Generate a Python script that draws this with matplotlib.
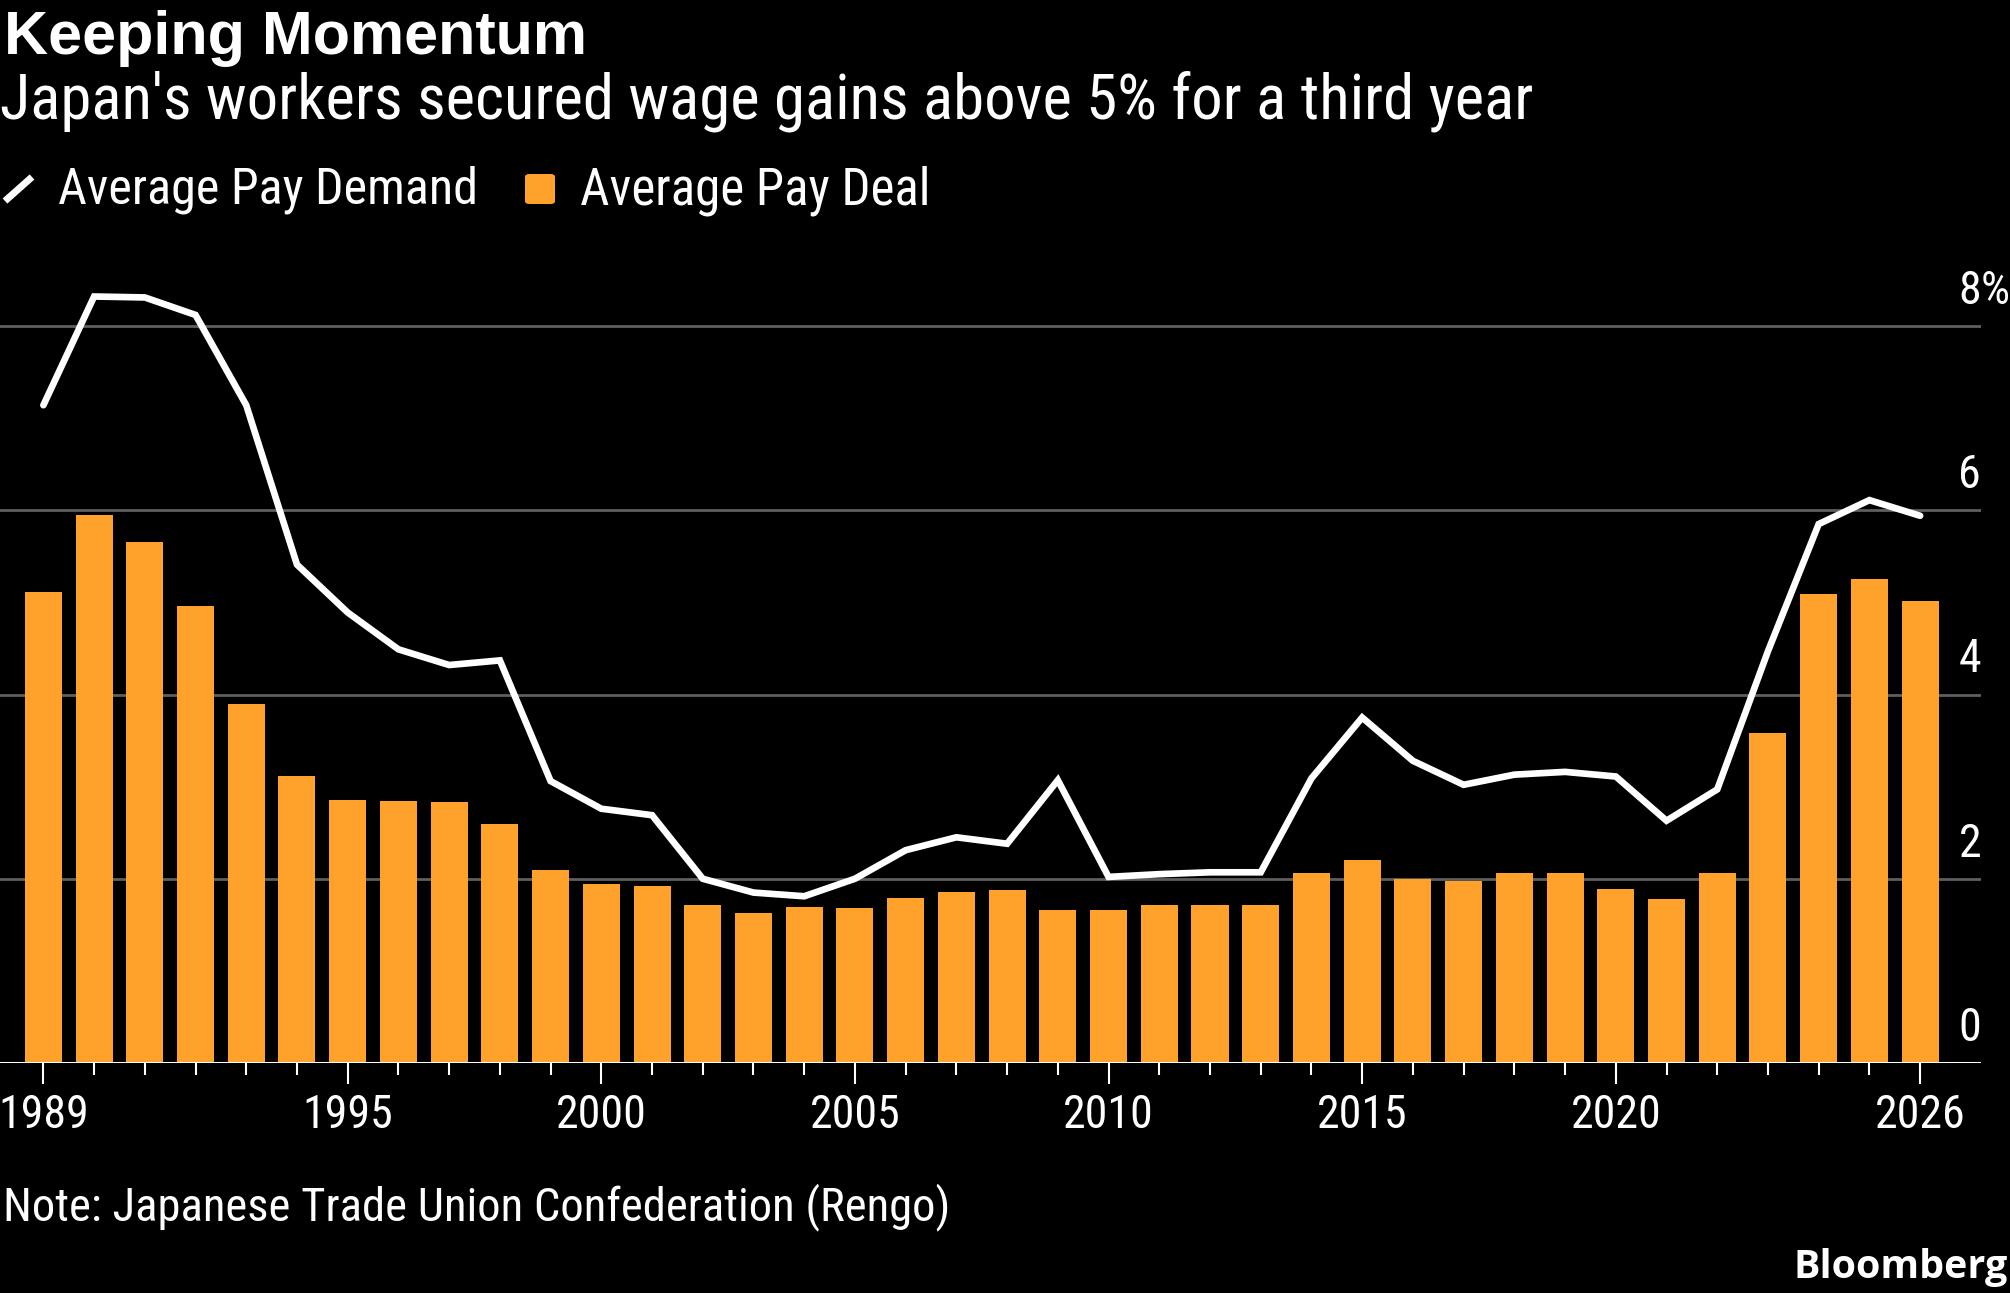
import matplotlib
matplotlib.use('Agg')
import matplotlib.pyplot as plt
from matplotlib import font_manager as fm
from matplotlib.lines import Line2D
from matplotlib.patches import FancyBboxPatch

# data (percent)
years = list(range(1989, 2027))
pay_deal = [5.11, 5.95, 5.65, 4.96, 3.90, 3.11, 2.85, 2.84, 2.83, 2.59,
            2.10, 1.94, 1.92, 1.72, 1.63, 1.69, 1.68, 1.79, 1.86, 1.88,
            1.66, 1.66, 1.71, 1.72, 1.71, 2.06, 2.20, 2.00, 1.98, 2.06,
            2.06, 1.89, 1.78, 2.06, 3.58, 5.09, 5.25, 5.01]
pay_demand = [7.14, 8.32, 8.31, 8.12, 7.14, 5.41, 4.89, 4.49, 4.32, 4.37,
              3.06, 2.76, 2.69, 2.00, 1.85, 1.81, 2.00, 2.31, 2.45, 2.38,
              3.07, 2.02, 2.05, 2.07, 2.07, 3.09, 3.75, 3.28, 3.02, 3.13,
              3.16, 3.11, 2.63, 2.97, 4.47, 5.85, 6.11, 5.94]
label_years = [1989, 1995, 2000, 2005, 2010, 2015, 2020, 2026]
y_ticks = [0, 2, 4, 6, 8]

W, H = 2010, 1293
ORANGE = '#FFA22C'
GRID = '#5f5f5f'


def narrow_font():
    # look for an installed narrow / condensed regular face
    prefer = ['Liberation Sans Narrow', 'Roboto', 'Noto Sans', 'Open Sans', 'DejaVu Sans']
    cands = []
    for e in fm.fontManager.ttflist:
        if e.style != 'normal' or e.weight not in (400, 'normal', 'regular'):
            continue
        n, st = e.name, str(e.stretch)
        if n == 'Liberation Sans Narrow':
            r = 0
        elif 'Condensed' in n or 'Narrow' in n:
            r = 1
        elif st in ('condensed', 'semi-condensed', 'extra-condensed'):
            r = 2
        else:
            continue
        p = next((i for i, f in enumerate(prefer) if n.startswith(f)), 9)
        cands.append((r, p, e.fname))
    if cands:
        return sorted(cands)[0][2]
    return None


NARROW_FILE = narrow_font()


def nfont(size):
    if NARROW_FILE:
        return fm.FontProperties(fname=NARROW_FILE, size=size)
    return fm.FontProperties(family='Liberation Sans', size=size)


fig = plt.figure(figsize=(W / 100, H / 100), dpi=100, facecolor='black')
renderer = fig.canvas.get_renderer()


def fit_text(x_px, y_px, s, w_px, **kw):
    # place text with its baseline at y_px and scale it to the given width
    t = fig.text(x_px / W, 1 - y_px / H, s, va='baseline', color='white', **kw)
    bb = t.get_window_extent(renderer)
    t.set_fontsize(t.get_fontsize() * w_px / bb.width)
    return t


# axes: x from 0 to 1981px, y 0% at 1063px, 8% at 326px
ymax = 8.8
px_per_unit = (1063 - 326) / 8.0
top_px = 1063 - ymax * px_per_unit
ax = fig.add_axes([0, (H - 1063) / H, 1981 / W, (1063 - top_px) / H])
ax.set_facecolor('black')
ax.set_xlim(1988.145, 2027.2)
ax.set_ylim(0, ymax)

for v in y_ticks[1:]:
    ax.axhline(v, color=GRID, lw=2, zorder=1)
ax.axhline(0, color='white', lw=2.2, zorder=4)

ax.bar(years, pay_deal, width=0.73, color=ORANGE, zorder=2)
ax.plot(years, pay_demand, color='white', lw=4.8, zorder=5,
        solid_capstyle='round', solid_joinstyle='miter', clip_on=False)

for s in ax.spines.values():
    s.set_visible(False)
ax.set_yticks([])
ax.set_xticks(label_years)
ax.set_xticks(years, minor=True)
ax.set_xticklabels([str(y) for y in label_years], fontproperties=nfont(33), color='white')
ax.tick_params(axis='x', which='major', length=15, width=1.5, color='white', pad=6.5)
ax.tick_params(axis='x', which='minor', length=8.6, width=1.5, color='white')

# right-hand y labels sitting above the gridlines
for v in y_ticks:
    ax.annotate(str(v), xy=(1, v), xycoords=ax.get_yaxis_transform(),
                xytext=(0, 16), textcoords='offset points', ha='right', va='baseline',
                fontproperties=nfont(33), color='white')
ax.annotate('%', xy=(1, 8), xycoords=ax.get_yaxis_transform(),
            xytext=(0, 16), textcoords='offset points', ha='left', va='baseline',
            fontproperties=nfont(33), color='white')

# header
fit_text(4, 54, 'Keeping Momentum', 582, family=['Liberation Sans', 'DejaVu Sans'],
         fontweight='bold', fontsize=40)
fit_text(0, 118, "Japan's workers secured wage gains above 5% for a third year", 1532,
         fontproperties=nfont(40))

# legend
fig.add_artist(Line2D([5 / W, 32 / W], [1 - 201 / H, 1 - 177 / H], color='white', lw=5,
                      solid_capstyle='butt'))
fit_text(58, 204, 'Average Pay Demand', 420, fontproperties=nfont(36))
fig.add_artist(FancyBboxPatch((525 / W, 1 - 204 / H), 30 / W, 30 / H,
                              boxstyle='round,pad=0,rounding_size=0.0022',
                              transform=fig.transFigure, facecolor=ORANGE, edgecolor='none'))
fit_text(580, 204, 'Average Pay Deal', 351, fontproperties=nfont(36))

# footer
fit_text(3, 1220, 'Note: Japanese Trade Union Confederation (Rengo)', 950,
         fontproperties=nfont(32))
fit_text(1793, 1278, 'Bloomberg', 214, family=['Open Sans', 'DejaVu Sans'],
         fontweight='bold', fontsize=30)

fig.savefig('out.png', dpi=100, facecolor='black')
